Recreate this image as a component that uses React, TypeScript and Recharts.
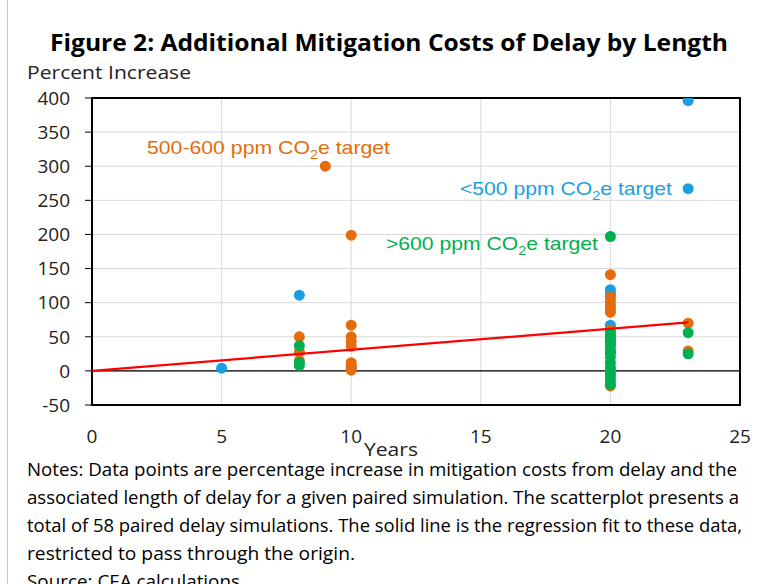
import React from 'react';
import {
  ScatterChart,
  Scatter,
  XAxis,
  YAxis,
  CartesianGrid,
  ReferenceLine,
  ReferenceArea,
} from 'recharts';

const xTicks = [0, 5, 10, 15, 20, 25];
const yTicks = [-50, 0, 50, 100, 150, 200, 250, 300, 350, 400];

// <500 ppm CO2e target
const blueData = [
  { x: 5, y: 4 },
  { x: 8, y: 111 },
  { x: 10, y: 3 },
  { x: 20, y: 119 },
  { x: 20, y: 114 },
  { x: 20, y: 110 },
  { x: 20, y: 67 },
  { x: 20, y: 62 },
  { x: 23, y: 396 },
  { x: 23, y: 267 },
];

// 500-600 ppm CO2e target
const orangeData = [
  { x: 8, y: 50 },
  { x: 8, y: 28 },
  { x: 8, y: 15 },
  { x: 9, y: 300 },
  { x: 10, y: 199 },
  { x: 10, y: 67 },
  { x: 10, y: 50 },
  { x: 10, y: 43 },
  { x: 10, y: 36 },
  { x: 10, y: 12 },
  { x: 10, y: 8 },
  { x: 10, y: 5 },
  { x: 10, y: 1 },
  { x: 20, y: 141 },
  { x: 20, y: 108 },
  { x: 20, y: 102 },
  { x: 20, y: 96 },
  { x: 20, y: 90 },
  { x: 20, y: 86 },
  { x: 20, y: 60 },
  { x: 20, y: 40 },
  { x: 20, y: 28 },
  { x: 20, y: -22 },
  { x: 23, y: 70 },
  { x: 23, y: 29 },
];

// >600 ppm CO2e target
const greenData = [
  { x: 8, y: 37 },
  { x: 8, y: 12 },
  { x: 8, y: 8 },
  { x: 20, y: 197 },
  { x: 20, y: 55 },
  { x: 20, y: 52 },
  { x: 20, y: 48 },
  { x: 20, y: 45 },
  { x: 20, y: 42 },
  { x: 20, y: 36 },
  { x: 20, y: 30 },
  { x: 20, y: 26 },
  { x: 20, y: 20 },
  { x: 20, y: 12 },
  { x: 20, y: 5 },
  { x: 20, y: 0 },
  { x: 20, y: -5 },
  { x: 20, y: -10 },
  { x: 20, y: -16 },
  { x: 20, y: -20 },
  { x: 23, y: 56 },
  { x: 23, y: 25 },
];

// Regression fit through origin
const fitData = [
  { x: 0, y: 0 },
  { x: 23, y: 71 },
];

const BLUE = '#1a9ee0';
const ORANGE = '#e46c0a';
const GREEN = '#00b050';
const RED = '#ff0000';

const noteLines = [
  'Notes: Data points are percentage increase in mitigation costs from delay and the',
  'associated length of delay for a given paired simulation. The scatterplot presents a',
  'total of 58 paired delay simulations. The solid line is the regression fit to these data,',
  'restricted to pass through the origin.',
  'Source: CEA calculations',
];
const noteWidths = [710, 712, 715, 328, 213];

const dot = (color: string) => (props: any) => (
  <circle cx={props.cx} cy={props.cy} r={5.5} fill={color} />
);

const CAL = '"Open Sans", "Liberation Sans", sans-serif';
const ARIAL = '"Liberation Sans", Arial, sans-serif';

export default function App() {
  return (
    <div style={{ position: 'absolute', left: 0, top: 0, width: 762, height: 584, background: '#fff', overflow: 'hidden' }}>
      <ScatterChart
        width={762}
        height={584}
        margin={{ top: 98, right: 22, bottom: 149, left: 32 }}
      >
        <CartesianGrid stroke="#d9d9d9" strokeWidth={1} />
        <XAxis
          type="number"
          dataKey="x"
          domain={[0, 25]}
          ticks={xTicks}
          height={30}
          axisLine={{ stroke: '#000', strokeWidth: 2 }}
          tickLine={false}
          tickSize={0}
          tickMargin={25}
          tick={{ fill: '#222', fontSize: 19, fontFamily: CAL }}
          allowDataOverflow
        />
        <YAxis
          type="number"
          dataKey="y"
          domain={[-50, 400]}
          ticks={yTicks}
          width={60}
          axisLine={{ stroke: '#000', strokeWidth: 2 }}
          tickLine={{ stroke: '#000' }}
          tickSize={7}
          tickMargin={15}
          tick={{ fill: '#222', fontSize: 19, fontFamily: CAL }}
          allowDataOverflow
        />
        <ReferenceArea
          x1={0}
          x2={25}
          y1={-50}
          y2={400}
          fill="none"
          fillOpacity={0}
          stroke="#000"
          strokeWidth={2}
          ifOverflow="visible"
        />
        <ReferenceLine y={0} stroke="#000" strokeWidth={1.2} />
        <Scatter data={blueData} fill={BLUE} shape={dot(BLUE)} isAnimationActive={false} />
        <Scatter data={orangeData} fill={ORANGE} shape={dot(ORANGE)} isAnimationActive={false} />
        <Scatter data={greenData} fill={GREEN} shape={dot(GREEN)} isAnimationActive={false} />
        <Scatter
          data={fitData}
          line={{ stroke: RED, strokeWidth: 2.2 }}
          shape={() => <g />}
          isAnimationActive={false}
        />
      </ScatterChart>
      <svg
        width={762}
        height={584}
        style={{ position: 'absolute', left: 0, top: 0, pointerEvents: 'none' }}
      >
        <line x1={7.5} y1={0} x2={7.5} y2={584} stroke="#c8c8c8" strokeWidth={1} />
        <text
          x={50}
          y={51}
          fontFamily={CAL}
          fontWeight="bold"
          fontSize={24}
          fill="#000"
          textLength={678}
          lengthAdjust="spacingAndGlyphs"
        >
          Figure 2: Additional Mitigation Costs of Delay by Length
        </text>
        <text
          x={27}
          y={79}
          fontFamily={CAL}
          fontSize={19}
          fill="#222"
          textLength={164}
          lengthAdjust="spacingAndGlyphs"
        >
          Percent Increase
        </text>
        <text
          x={364}
          y={456}
          fontFamily={CAL}
          fontSize={18}
          fill="#222"
          textLength={54}
          lengthAdjust="spacingAndGlyphs"
        >
          Years
        </text>
        <text x={147} y={154} fontFamily={ARIAL} fontSize={19} fill={ORANGE} textLength={243} lengthAdjust="spacingAndGlyphs">
          500-600 ppm CO<tspan fontSize={13} dy={5}>2</tspan><tspan dy={-5}>e target</tspan>
        </text>
        <text x={460} y={195} fontFamily={ARIAL} fontSize={19} fill={BLUE} textLength={212} lengthAdjust="spacingAndGlyphs">
          &lt;500 ppm CO<tspan fontSize={13} dy={5}>2</tspan><tspan dy={-5}>e target</tspan>
        </text>
        <text x={386} y={250} fontFamily={ARIAL} fontSize={19} fill={GREEN} textLength={212} lengthAdjust="spacingAndGlyphs">
          &gt;600 ppm CO<tspan fontSize={13} dy={5}>2</tspan><tspan dy={-5}>e target</tspan>
        </text>
        {noteLines.map((l, i) => (
          <text
            key={i}
            x={27}
            y={476 + i * 28}
            fontFamily={CAL}
            fontSize={19}
            fill="#000"
            textLength={noteWidths[i]}
            lengthAdjust="spacingAndGlyphs"
          >
            {l}
          </text>
        ))}
      </svg>
    </div>
  );
}
